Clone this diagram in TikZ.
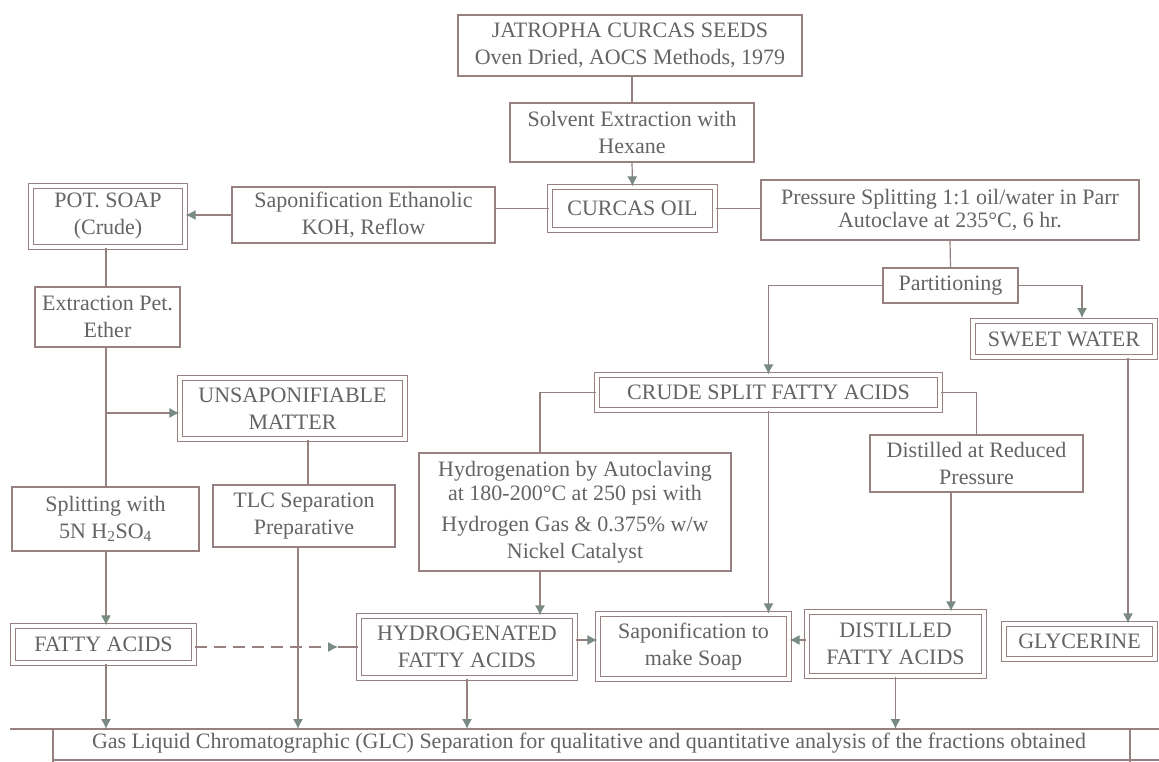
\documentclass[tikz,border=0pt]{standalone}
\usepackage{fontspec}
\setmainfont{Liberation Serif}
\usetikzlibrary{arrows.meta,calc}
\definecolor{linec}{RGB}{150,128,128}
\definecolor{txtc}{RGB}{100,100,100}
\definecolor{arrc}{RGB}{120,138,130}
\begin{document}
\begin{tikzpicture}[x=1pt,y=-1pt,
  every node/.style={font=\fontsize{22}{27}\selectfont, text=txtc},
  box/.style={draw=linec, line width=1.2pt, inner sep=0pt, align=center, fill=white},
  dbox/.style={box, double=white, double distance=3.5pt},
  line/.style={draw=linec, line width=1.2pt},
  arr/.style={line, -{Latex[length=10pt,width=10pt,color=arrc]}},
]
\fill[white] (0,0) rectangle (1159,762);
\useasboundingbox (0,0) rectangle (1159,762);

% nodes
\node[box, minimum width=344pt, minimum height=61pt] (jat) at (630,45.5) {JATROPHA CURCAS SEEDS\\Oven Dried, AOCS Methods, 1979};
\node[box, minimum width=244pt, minimum height=59pt] (solv) at (632,132.5) {Solvent Extraction with\\Hexane};
\node[dbox, minimum width=165pt, minimum height=43pt] (curcas) at (632.5,208.5) {CURCAS OIL};
\node[box, minimum width=263pt, minimum height=56pt] (sapE) at (363.5,215) {Saponification Ethanolic\\KOH, Reflow};
\node[dbox, minimum width=154pt, minimum height=61pt] (pot) at (108,216.5) {POT. SOAP\\(Crude)};
\node[box, minimum width=378pt, minimum height=60pt] (press) at (950,210) {Pressure Splitting 1:1 oil/water in Parr\\[-4pt]Autoclave at 235°C, 6 hr.};
\node[box, minimum width=145pt, minimum height=60pt] (ext) at (107.5,317) {Extraction Pet.\\Ether};
\node[box, minimum width=135pt, minimum height=35pt] (part) at (950.5,285.5) {Partitioning};
\node[dbox, minimum width=182pt, minimum height=36pt] (sweet) at (1064,339) {SWEET WATER};
\node[dbox, minimum width=343pt, minimum height=35pt] (crude) at (768.5,392.5) {CRUDE SPLIT FATTY ACIDS};
\node[dbox, minimum width=225pt, minimum height=61pt] (unsap) at (292.5,408.5) {UNSAPONIFIABLE\\MATTER};
\node[box, minimum width=312pt, minimum height=118pt] (hyd) at (575,512) {Hydrogenation by Autoclaving\\[-3pt]at 180-200°C at 250 psi with\\[4pt]Hydrogen Gas \& 0.375\% w/w\\Nickel Catalyst};
\node[box, minimum width=213pt, minimum height=57pt] (dist) at (976.5,463.5) {Distilled at Reduced\\Pressure};
\node[box, minimum width=187pt, minimum height=64pt] (split) at (105.5,519) {Splitting with\\5N H\textsubscript{2}SO\textsubscript{4}};
\node[box, minimum width=182pt, minimum height=62pt] (tlc) at (304,516) {TLC Separation\\Preparative};
\node[dbox, minimum width=181pt, minimum height=37pt] (fa) at (103.5,644.5) {FATTY ACIDS};
\node[dbox, minimum width=216pt, minimum height=62pt] (hfa) at (467,647) {HYDROGENATED\\FATTY ACIDS};
\node[dbox, minimum width=191pt, minimum height=65pt] (soap) at (693.5,646.5) {Saponification to\\make Soap};
\node[dbox, minimum width=177pt, minimum height=64pt] (dfa) at (895.5,644) {DISTILLED\\FATTY ACIDS};
\node[dbox, minimum width=151pt, minimum height=35pt] (gly) at (1079.5,641.5) {GLYCERINE};
\node (glc) at (589,743) {Gas Liquid Chromatographic (GLC) Separation for qualitative and quantitative analysis of the fractions obtained};

% helper coordinates
\coordinate (glcL) at (10,729);
\coordinate (glcR) at (1159,729);
\coordinate (vx) at (106,0);
\coordinate (br) at (106,413);
\coordinate (ux) at (308,0);
\coordinate (tx) at (298,0);
\coordinate (hx) at (540,0);
\coordinate (dx) at (951,0);
\coordinate (gx) at (1128,0);
\coordinate (swin) at (1082,318);
\coordinate (ay) at (0,640);
\coordinate (dmid) at (338,647);

% GLC frame
\draw[line] (glcL) -- (glcR);
\draw[line] (53,729) -- (53,762);
\draw[line] (1130,729) -- (1130,762);
\draw[line] (53,760) -- (1159,760);

% connectors
\draw[line] (jat.south -| solv.north) -- (solv.north);
\draw[arr] (solv.south) -- (curcas.north);
\draw[line] (curcas.west) -- (curcas.west -| sapE.east);
\draw[arr] (sapE.west) -- (sapE.west -| pot.east);
\draw[line] (curcas.east) -- (curcas.east -| press.west);
\draw[line] (pot.south -| vx) -- (ext.north -| vx);
\draw[line] (ext.south -| vx) -- (split.north -| vx);
\draw[arr] (br) -- (br -| unsap.west);
\draw[arr] (split.south -| vx) -- (fa.north -| vx);
\draw[line] (unsap.south -| ux) -- (tlc.north -| ux);
\draw[line] (press.south) -- (part.north);
\draw[arr] (part.west) -| (crude.north);
\draw[arr] (part.east) -| (swin);
\draw[arr] (sweet.south -| gx) -- (gly.north -| gx);
\draw[line] (crude.west) -| (hyd.north -| hx);
\draw[arr] (crude.south) -- (crude.south |- soap.north);
\draw[line] (crude.east) -| (dist.north);
\draw[arr] (dist.south -| dx) -- (dfa.north -| dx);
\draw[arr] (hyd.south -| hx) -- (hfa.north -| hx);
\draw[arr] (hfa.east |- ay) -- (soap.west |- ay);
\draw[arr] (dfa.west |- ay) -- (soap.east |- ay);
\draw[arr, dash pattern=on 12pt off 7pt] (fa.east |- dmid) -- (dmid);
\draw[line] (dmid) -- (dmid -| hfa.west);
\draw[arr] (fa.south -| vx) -- (vx |- glcL);
\draw[arr] (tlc.south -| tx) -- (tx |- glcL);
\draw[arr] (hfa.south) -- (hfa.south |- glcL);
\draw[arr] (dfa.south) -- (dfa.south |- glcL);
\end{tikzpicture}
\end{document}
